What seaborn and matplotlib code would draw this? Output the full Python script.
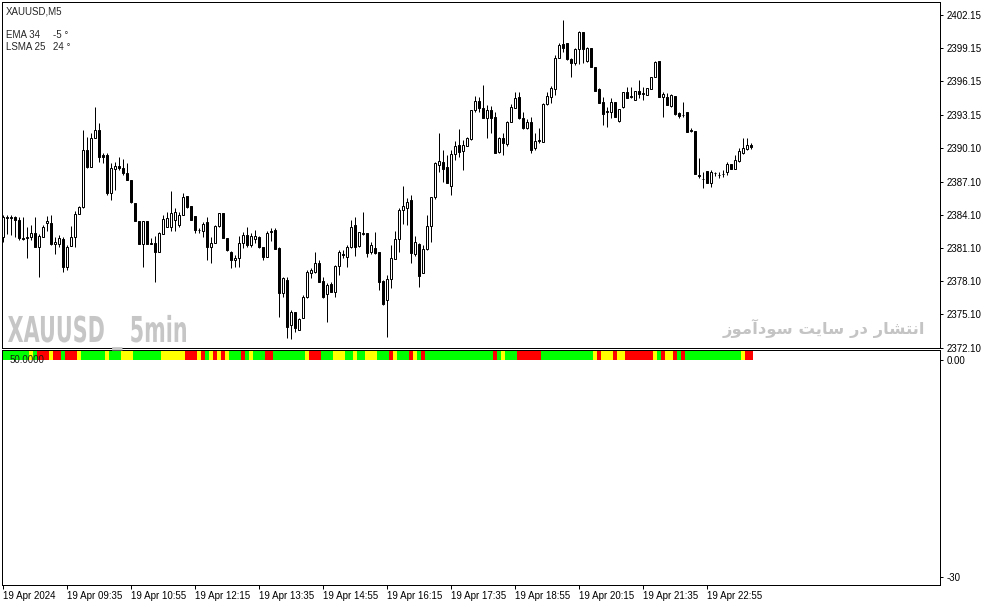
import matplotlib
matplotlib.use("Agg")
import matplotlib.pyplot as plt
import numpy as np
import pandas as pd
import seaborn as sns
from matplotlib.font_manager import FontProperties
from matplotlib.patches import PathPatch
from matplotlib.textpath import TextPath
from matplotlib.transforms import Affine2D

# XAUUSD M5 candles, 19 Apr 2024 08:15 .. 23:50 (188 bars)
opens = [
    2382.13, 2383.80, 2383.80, 2383.90, 2383.60, 2382.00, 2382.05, 2382.10, 2382.50, 2381.20,
    2382.10, 2383.40, 2383.35, 2381.50, 2381.50, 2381.90, 2379.40, 2381.30, 2382.10, 2384.20,
    2384.80, 2389.95, 2388.45, 2391.00, 2391.75, 2389.50, 2389.50, 2386.10, 2388.20, 2388.50,
    2388.30, 2387.90, 2387.25, 2385.15, 2383.50, 2381.50, 2383.50, 2381.45, 2381.58, 2380.77,
    2382.37, 2383.03, 2383.03, 2383.63, 2383.18, 2384.08, 2385.80, 2384.90, 2383.99, 2382.73,
    2382.67, 2383.48, 2381.22, 2381.58, 2383.09, 2384.23, 2382.04, 2380.77, 2380.02, 2380.17,
    2381.58, 2382.28, 2381.37, 2381.89, 2382.07, 2381.16, 2380.26, 2382.55, 2382.73, 2381.07,
    2377.07, 2378.21, 2374.15, 2375.32, 2373.70, 2374.75, 2376.65, 2378.81, 2378.97, 2379.72,
    2378.12, 2376.95, 2377.85, 2377.16, 2379.48, 2380.56, 2380.26, 2381.16, 2383.15, 2381.28,
    2382.40, 2382.43, 2380.77, 2381.07, 2380.74, 2378.12, 2376.41, 2378.27, 2380.08, 2381.89,
    2384.54, 2384.69, 2385.44, 2380.56, 2381.44, 2378.88, 2380.98, 2383.09, 2385.68, 2388.60,
    2388.90, 2388.45, 2386.73, 2389.56, 2390.41, 2389.87, 2390.35, 2390.95, 2393.57, 2394.38,
    2393.72, 2392.82, 2393.57, 2392.97, 2389.74, 2391.01, 2390.47, 2392.51, 2393.78, 2394.77,
    2392.82, 2391.91, 2392.51, 2390.11, 2390.75, 2390.71, 2394.08, 2394.77, 2395.47, 2398.23,
    2399.50, 2399.59, 2398.17, 2397.78, 2399.08, 2400.58, 2397.99, 2399.14, 2397.48, 2395.47,
    2394.26, 2393.42, 2393.42, 2394.26, 2392.57, 2393.87, 2395.16, 2394.77, 2394.47, 2395.29,
    2395.05, 2394.92, 2395.47, 2396.58, 2397.99, 2394.77, 2394.77, 2393.96, 2394.86, 2393.27,
    2393.10, 2393.36, 2391.73, 2391.67, 2387.70, 2387.37, 2388.06, 2386.94, 2387.88, 2387.73,
    2387.76, 2387.94, 2388.66, 2388.24, 2388.99, 2389.65, 2390.02, 2390.41,
]
highs = [
    2384.08, 2384.10, 2384.10, 2384.00, 2383.90, 2383.90, 2383.00, 2383.20, 2383.90, 2382.40,
    2383.20, 2384.00, 2384.10, 2382.10, 2382.30, 2382.10, 2381.40, 2383.10, 2384.40, 2384.85,
    2391.76, 2391.16, 2391.50, 2393.80, 2392.36, 2389.65, 2389.65, 2388.75, 2388.90, 2389.35,
    2389.10, 2388.75, 2387.25, 2385.15, 2383.50, 2383.57, 2383.50, 2382.00, 2382.20, 2382.58,
    2384.08, 2384.38, 2386.28, 2384.68, 2384.38, 2386.04, 2385.80, 2384.90, 2383.99, 2382.88,
    2383.48, 2383.93, 2382.13, 2383.18, 2384.23, 2384.23, 2382.04, 2380.86, 2380.47, 2382.19,
    2382.58, 2383.03, 2382.43, 2382.73, 2382.19, 2381.22, 2382.64, 2382.88, 2382.88, 2381.16,
    2378.51, 2378.51, 2375.50, 2375.32, 2374.75, 2376.86, 2379.12, 2379.27, 2380.71, 2380.02,
    2378.51, 2377.91, 2378.06, 2379.57, 2380.92, 2380.92, 2381.37, 2383.63, 2383.87, 2382.58,
    2384.36, 2382.43, 2381.68, 2382.58, 2380.74, 2378.21, 2378.66, 2381.37, 2382.67, 2384.69,
    2386.70, 2385.59, 2385.86, 2382.19, 2381.53, 2381.37, 2384.08, 2385.68, 2388.90, 2391.46,
    2389.96, 2389.50, 2389.96, 2390.77, 2391.85, 2390.86, 2391.16, 2393.57, 2394.86, 2394.77,
    2395.83, 2394.02, 2393.96, 2393.36, 2391.16, 2391.46, 2392.57, 2394.08, 2395.22, 2395.22,
    2393.42, 2392.76, 2392.97, 2391.46, 2391.91, 2394.17, 2395.22, 2395.77, 2398.54, 2399.59,
    2401.70, 2399.59, 2398.23, 2399.14, 2400.70, 2400.64, 2399.29, 2399.14, 2397.48, 2395.59,
    2394.77, 2393.87, 2394.62, 2394.26, 2393.63, 2395.22, 2395.68, 2395.68, 2395.29, 2396.28,
    2395.68, 2395.59, 2396.58, 2397.99, 2397.99, 2395.22, 2395.07, 2394.98, 2394.86, 2393.42,
    2394.26, 2393.36, 2391.91, 2391.67, 2389.20, 2388.00, 2388.06, 2388.15, 2388.00, 2388.00,
    2388.15, 2388.90, 2388.66, 2389.50, 2390.11, 2391.01, 2391.07, 2390.60,
]
lows = [
    2381.68, 2382.40, 2382.30, 2382.10, 2381.80, 2381.80, 2380.20, 2381.80, 2381.20, 2378.50,
    2382.10, 2382.60, 2381.40, 2380.60, 2381.20, 2378.95, 2379.10, 2381.30, 2381.20, 2384.20,
    2384.70, 2388.30, 2388.45, 2391.00, 2388.90, 2388.75, 2385.90, 2385.44, 2386.35, 2388.15,
    2387.70, 2387.25, 2385.15, 2383.55, 2381.45, 2379.42, 2381.45, 2381.45, 2378.00, 2380.77,
    2382.37, 2383.03, 2382.67, 2382.67, 2383.03, 2384.08, 2384.68, 2383.63, 2382.49, 2382.43,
    2382.13, 2380.02, 2379.72, 2381.52, 2383.03, 2381.98, 2380.86, 2379.27, 2379.42, 2379.42,
    2381.07, 2381.22, 2381.22, 2381.53, 2381.07, 2380.02, 2380.26, 2381.77, 2380.98, 2374.84,
    2376.71, 2372.94, 2372.85, 2373.55, 2373.70, 2374.75, 2376.56, 2378.36, 2378.81, 2378.06,
    2376.56, 2374.45, 2377.16, 2376.71, 2378.66, 2380.17, 2379.42, 2381.07, 2380.38, 2381.16,
    2382.28, 2380.32, 2380.56, 2380.56, 2377.31, 2375.96, 2373.03, 2377.46, 2380.08, 2380.77,
    2383.27, 2383.18, 2379.72, 2380.38, 2377.55, 2378.81, 2380.92, 2381.68, 2385.50, 2388.00,
    2387.10, 2386.94, 2385.89, 2389.05, 2389.35, 2388.15, 2390.35, 2390.86, 2393.36, 2393.42,
    2392.82, 2391.07, 2391.46, 2389.65, 2389.65, 2389.50, 2390.35, 2392.45, 2393.72, 2392.76,
    2391.85, 2391.85, 2389.65, 2389.96, 2390.56, 2390.71, 2394.02, 2394.17, 2394.92, 2398.23,
    2398.84, 2398.08, 2396.58, 2397.63, 2397.69, 2397.78, 2397.93, 2397.48, 2395.29, 2394.17,
    2392.21, 2392.06, 2392.82, 2392.97, 2392.51, 2393.78, 2394.62, 2394.62, 2394.47, 2394.62,
    2394.47, 2394.92, 2395.47, 2396.58, 2394.77, 2392.97, 2394.02, 2393.87, 2393.12, 2392.82,
    2392.97, 2391.55, 2391.61, 2387.76, 2387.40, 2386.49, 2386.94, 2386.64, 2387.64, 2387.40,
    2387.55, 2387.70, 2388.24, 2388.24, 2388.90, 2389.56, 2389.96, 2390.00,
]
closes = [
    2383.93, 2383.90, 2383.90, 2383.60, 2382.00, 2381.95, 2382.10, 2382.50, 2381.20, 2382.20,
    2383.00, 2383.55, 2381.50, 2381.60, 2382.00, 2379.40, 2381.20, 2382.10, 2384.20, 2384.80,
    2389.95, 2388.45, 2391.00, 2391.80, 2389.35, 2389.35, 2386.10, 2388.30, 2388.50, 2388.30,
    2387.85, 2387.25, 2385.30, 2383.55, 2381.50, 2383.50, 2381.45, 2381.55, 2380.77, 2382.43,
    2383.75, 2383.78, 2384.29, 2384.38, 2384.08, 2385.74, 2384.84, 2383.63, 2382.73, 2382.76,
    2383.27, 2381.22, 2381.58, 2383.09, 2384.23, 2382.04, 2380.92, 2380.02, 2380.17, 2381.58,
    2382.28, 2381.37, 2382.19, 2382.19, 2381.22, 2380.26, 2382.49, 2382.61, 2380.98, 2377.07,
    2378.36, 2374.00, 2375.32, 2373.85, 2374.66, 2376.71, 2378.91, 2379.12, 2379.72, 2378.06,
    2376.71, 2377.76, 2377.16, 2379.48, 2380.74, 2380.50, 2381.16, 2382.97, 2381.16, 2382.58,
    2382.45, 2380.68, 2381.37, 2380.62, 2378.06, 2376.05, 2378.30, 2380.17, 2381.89, 2384.54,
    2384.90, 2385.29, 2380.62, 2381.61, 2378.57, 2380.98, 2383.09, 2385.68, 2388.75, 2388.96,
    2388.24, 2386.94, 2389.56, 2390.32, 2389.74, 2390.41, 2391.01, 2393.57, 2394.38, 2393.72,
    2392.82, 2393.57, 2392.88, 2389.65, 2391.01, 2390.56, 2392.51, 2393.84, 2394.68, 2392.82,
    2391.97, 2392.51, 2389.96, 2390.77, 2390.82, 2394.08, 2394.86, 2395.59, 2398.23, 2399.44,
    2399.14, 2398.17, 2397.78, 2399.08, 2400.64, 2399.08, 2399.14, 2397.48, 2395.29, 2394.17,
    2393.18, 2393.50, 2394.26, 2392.97, 2393.63, 2395.16, 2394.62, 2394.82, 2395.29, 2394.98,
    2395.10, 2395.53, 2396.58, 2397.93, 2394.77, 2394.98, 2394.02, 2394.92, 2393.18, 2393.06,
    2393.15, 2391.61, 2391.67, 2387.76, 2387.64, 2387.31, 2386.94, 2388.00, 2387.85, 2387.70,
    2387.80, 2388.66, 2388.24, 2389.05, 2389.87, 2390.17, 2390.41, 2390.20,
]

# indicator state per bar: G = up, Y = flat, R = down
states = list(
    "GGGGGGGYGR" "RRYRRGRRRY" "GGGGGGYGGG" "YYYGGGGGGG" "YYYYYYRRRY"
    "RGYRYRYGGG" "RGYGGGRRGG" "GGGGGGYRRR" "GGGYYYGGYG" "GYYYGGGRYG"
    "GGRYGRGGGG" "GGGGGGGGGG" "GGGRGYGGGR" "RRRRRGGGGG" "GGGGGGGGYR"
    "YYYRYYRRRR" "RRRYGRYYRG" "RGGGGGGGGG" "GGGGGYRR"
)
state_colors = {"G": "#00ff00", "Y": "#ffff00", "R": "#ff0000"}

time_ticks = [0, 16, 32, 48, 64, 80, 96, 112, 128, 144, 160, 176]
time_labels = ["19 Apr 2024", "19 Apr 09:35", "19 Apr 10:55", "19 Apr 12:15",
               "19 Apr 13:35", "19 Apr 14:55", "19 Apr 16:15", "19 Apr 17:35",
               "19 Apr 18:55", "19 Apr 20:15", "19 Apr 21:35", "19 Apr 22:55"]
price_ticks = [2402.15, 2399.15, 2396.15, 2393.15, 2390.10, 2387.10,
               2384.10, 2381.10, 2378.10, 2375.10, 2372.10]
price_labels = [f"{p:.2f}" for p in price_ticks]
ind_ticks = [0, -30]
ind_labels = ["0.00", "-30"]

sns.set_style("white")
plt.rcParams["font.family"] = ["Liberation Sans", "DejaVu Sans"]
plt.rcParams["font.size"] = 7

W, H = 987, 605
PX = 0.72  # one pixel in points at dpi 100

fig = plt.figure(figsize=(W / 100, H / 100), dpi=100)
ax_p = fig.add_axes([2 / W, 1 - 348 / H, 938 / W, 346 / H])
ax_i = fig.add_axes([2 / W, 1 - 585 / H, 938 / W, 235 / H])

df = pd.DataFrame({"open": opens, "high": highs, "low": lows, "close": closes})
df["bar"] = np.arange(len(df))

# candles: wicks, then hollow (bull) and filled (bear) bodies
ax_p.vlines(df["bar"], df["low"], df["high"], color="black", linewidth=PX, zorder=2)
up = df[df["close"] >= df["open"]]
dn = df[df["close"] < df["open"]]
ax_p.bar(up["bar"], (up["close"] - up["open"]).clip(lower=0.01), bottom=up["open"],
         width=0.5, color="white", edgecolor="black", linewidth=PX, zorder=3)
ax_p.bar(dn["bar"], dn["open"] - dn["close"], bottom=dn["close"],
         width=0.5, color="black", edgecolor="black", linewidth=PX, zorder=3)

# colour strip in the indicator window
strip = pd.DataFrame({"bar": df["bar"], "state": states, "level": 1.25})
sns.barplot(data=strip, x="bar", y="level", hue="state", palette=state_colors,
            native_scale=True, width=1, dodge=False, saturation=1, linewidth=0,
            errorbar=None, legend=False, antialiased=False, ax=ax_i)

for ax in (ax_p, ax_i):
    ax.set_xlim(-0.33, 234.2)
    ax.set_xlabel("")
    ax.set_ylabel("")
    ax.yaxis.tick_right()
    for s in ax.spines.values():
        s.set_visible(True)
        s.set_color("black")
        s.set_linewidth(PX)
    ax.tick_params(axis="y", direction="out", length=2.5, width=PX, pad=2,
                   labelsize=7, colors="black", right=True, left=False)

ax_p.set_ylim(2372.07, 2403.32)
ax_p.set_yticks(price_ticks, price_labels)
ax_p.set_xticks([])

ax_i.set_ylim(-31.1, 1.38)
ax_i.set_yticks(ind_ticks, ind_labels)
ax_i.set_xticks(time_ticks, time_labels)
ax_i.tick_params(axis="x", direction="out", length=3, width=PX, pad=1.5,
                 labelsize=7, colors="black", bottom=True)
for lbl in ax_i.get_xticklabels():
    lbl.set_ha("left")


# chart overlays
def put(x, y, s, **kw):
    fig.text(x / W, 1 - y / H, s, va="center", **kw)


put(6, 11, "XAUUSD,M5", fontsize=7)
put(6, 35, "EMA 34", fontsize=7)
put(53, 35, "-5 °", fontsize=7)
put(6, 47, "LSMA 25", fontsize=7)
put(53, 47, "24 °", fontsize=7)
put(10, 360, "50.0000", fontsize=7, color="#1a1a1a")

# condensed bold watermark: squeeze a text path into its box (x 8..186, caps 315..342)
bold = FontProperties(family="DejaVu Sans", weight="bold")
mark = TextPath((0, 0), "XAUUSD _ 5min", size=1, prop=bold)
caps = TextPath((0, 0), "XAUUSD", size=1, prop=bold).get_extents()
ext = mark.get_extents()
sx = 178 / ext.width
sy = 27 / caps.height
place = Affine2D().scale(sx, sy).translate(8 - ext.xmin * sx, H - 342)
fig.add_artist(PathPatch(mark, transform=place, facecolor="#c6c6c6",
                         edgecolor="none", zorder=1))

persian = ("\ufeaf\ufeee\ufee3\ufe81\ufea9\ufeee\ufeb3 \ufe96\ufef3\ufe8e\ufeb3 "
           "\ufead\ufea9 \ufead\ufe8e\ufeb8\ufe98\ufee7\ufe8d")
put(925, 328, persian, ha="right", fontsize=11.8, fontweight="bold", color="#c4c4c4",
    family=["DejaVu Sans"])

fig.savefig("out.png", dpi=100, facecolor="white")
